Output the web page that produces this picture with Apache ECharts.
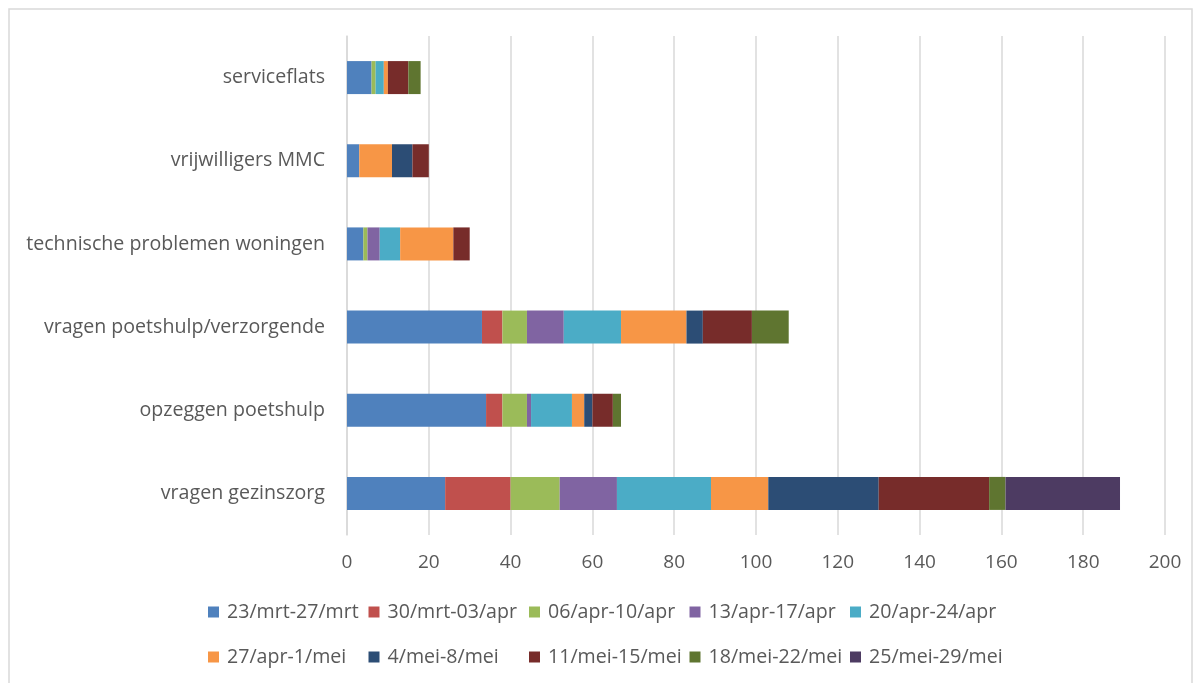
<!DOCTYPE html>
<html>
<head>
<meta charset="utf-8">
<script src="https://cdn.jsdelivr.net/npm/echarts@6/dist/echarts.min.js"></script>
<style>
html,body{margin:0;padding:0;background:#fff;}
#chart{width:1202px;height:683px;}
</style>
</head>
<body>
<div id="chart"></div>
<script>
const categories = ['vragen gezinszorg','opzeggen poetshulp','vragen poetshulp/verzorgende','technische problemen woningen','vrijwilligers MMC','serviceflats'];
const seriesNames = ['23/mrt-27/mrt','30/mrt-03/apr','06/apr-10/apr','13/apr-17/apr','20/apr-24/apr','27/apr-1/mei','4/mei-8/mei','11/mei-15/mei','18/mei-22/mei','25/mei-29/mei'];
const w1 = [24,34,33,4,3,6];
const w2 = [16,4,5,0,0,0];
const w3 = [12,6,6,1,0,1];
const w4 = [14,1,9,3,0,0];
const w5 = [23,10,14,5,0,2];
const w6 = [14,3,16,13,8,1];
const w7 = [27,2,4,0,5,0];
const w8 = [27,5,12,4,4,5];
const w9 = [4,2,9,0,0,3];
const w10 = [28,0,0,0,0,0];
const xTicks = [0,20,40,60,80,100,120,140,160,180,200];
const colors = ['#4F81BD','#C0504D','#9BBB59','#8064A2','#4BACC6','#F79646','#2C4D75','#772C2A','#5F7530','#4D3B62'];

const seriesData = [w1,w2,w3,w4,w5,w6,w7,w8,w9,w10];
const font = '"Open Sans", sans-serif';
const textColor = '#595959';

const legends = seriesNames.map((name, i) => ({
  data: [name],
  left: 208 + (i % 5) * 160.5,
  top: i < 5 ? 601 : 646,
  padding: 0,
  itemWidth: 11,
  itemHeight: 11,
  icon: 'rect',
  textStyle: {fontFamily: font, fontSize: 19.6, color: textColor, lineHeight: 22, padding: [0,0,0,3]}
}));

const chart = echarts.init(document.getElementById('chart'));
chart.setOption({
  animation: false,
  color: colors,
  graphic: [{
    type: 'rect',
    shape: {x: 9, y: 9, width: 1183, height: 700},
    style: {fill: 'none', stroke: '#d9d9d9', lineWidth: 1.5},
    silent: true
  }],
  legend: legends,
  grid: {left: 347, right: 37, top: 36, height: 499, containLabel: false},
  xAxis: {
    type: 'value',
    min: xTicks[0],
    max: xTicks[xTicks.length - 1],
    interval: xTicks[1] - xTicks[0],
    axisLine: {show: false},
    axisTick: {show: false},
    splitLine: {lineStyle: {color: '#d9d9d9', width: 1.5}},
    axisLabel: {fontFamily: font, fontSize: 19, color: textColor, margin: 18}
  },
  yAxis: {
    type: 'category',
    data: categories,
    axisLine: {show: true, lineStyle: {color: '#d9d9d9', width: 1.5}},
    axisTick: {show: false},
    axisLabel: {fontFamily: font, fontSize: 19.6, color: textColor, margin: 22}
  },
  series: seriesNames.map((name, i) => ({
    name: name,
    type: 'bar',
    stack: 'total',
    barWidth: 33,
    data: seriesData[i],
    itemStyle: {color: colors[i]}
  }))
});
</script>
</body>
</html>
